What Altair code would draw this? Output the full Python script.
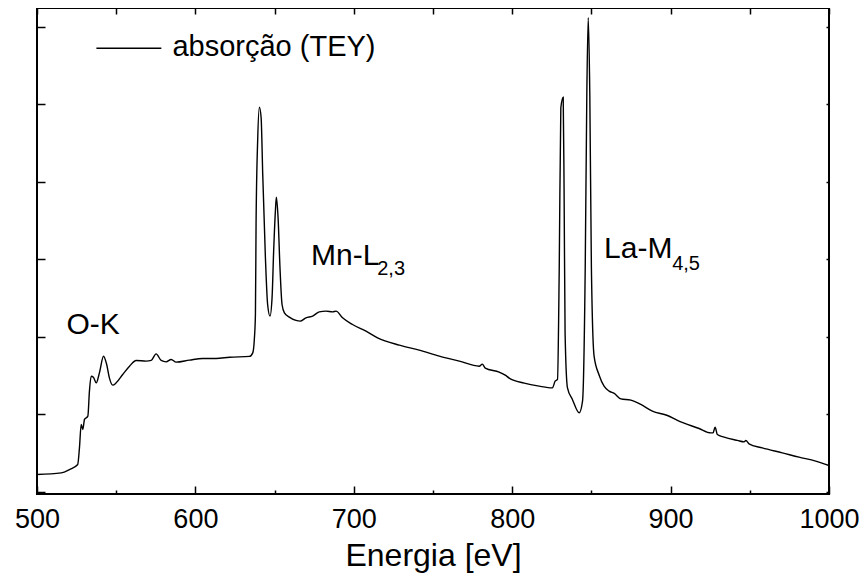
import altair as alt
import pandas as pd

energy = [500.0, 515.3, 520.5, 525.7, 526.8, 527.9, 528.9, 530.0, 532.1, 533.1, 534.2, 535.6, 537.4, 539.4,
          542.0, 544.0, 545.7, 547.8, 550.0, 554.1, 558.4, 562.6, 568.9, 572.1, 575.2, 578.4, 581.5, 584.7,
          587.8, 596.2, 604.6, 613.1, 621.5, 634.1, 636.2, 637.2, 637.9, 638.3, 639.3, 640.4, 641.5, 642.5,
          644.2, 645.6, 647.1, 648.4, 649.4, 650.5, 651.1, 652.2, 653.4, 654.7, 656.2, 659.3, 663.5, 666.1,
          669.8, 674.0, 678.2, 682.5, 686.6, 688.8, 692.9, 699.2, 707.7, 715.0, 728.7, 741.3, 754.0, 766.6,
          779.2, 781.1, 783.0, 791.8, 795.6, 798.1, 807.6, 817.0, 825.4, 827.1, 828.6, 829.7, 830.7, 832.2,
          832.8, 833.4, 834.9, 838.0, 842.3, 844.4, 846.1, 847.1, 848.0, 849.0, 850.0, 851.7, 854.9, 858.0,
          861.2, 864.4, 868.6, 874.9, 881.2, 888.5, 898.0, 904.3, 918.0, 925.4, 926.8, 928.1, 929.5, 933.8,
          942.2, 946.4, 947.5, 949.5, 957.9, 970.5, 981.1, 991.6, 1000.0]
intensity = [0.222, 0.243, 0.286, 0.351, 0.565, 0.867, 0.803, 0.932, 0.974, 1.297, 1.490, 1.477, 1.404, 1.533,
             1.748, 1.641, 1.468, 1.374, 1.404, 1.512, 1.619, 1.693, 1.684, 1.693, 1.778, 1.693, 1.675, 1.706,
             1.671, 1.697, 1.719, 1.719, 1.735, 1.745, 1.791, 1.964, 2.290, 3.452, 4.523, 4.961, 4.823, 4.097,
             3.017, 2.415, 2.265, 2.501, 3.103, 3.619, 3.800, 3.533, 2.888, 2.415, 2.307, 2.252, 2.209, 2.200,
             2.243, 2.265, 2.320, 2.329, 2.320, 2.329, 2.243, 2.157, 2.071, 1.985, 1.890, 1.826, 1.748, 1.684,
             1.619, 1.645, 1.594, 1.542, 1.503, 1.465, 1.400, 1.361, 1.339, 1.426, 1.448, 2.888, 4.952, 5.090,
             3.748, 2.032, 1.339, 1.190, 1.017, 1.168, 2.888, 5.110, 6.114, 5.110, 2.888, 1.748, 1.503, 1.361,
             1.297, 1.267, 1.197, 1.181, 1.125, 1.039, 0.983, 0.919, 0.815, 0.759, 0.759, 0.832, 0.738, 0.703,
             0.661, 0.643, 0.661, 0.617, 0.565, 0.501, 0.445, 0.394, 0.338]

x_major = [500, 600, 700, 800, 900, 1000]
x_minor = [550, 650, 750, 850, 950]
x_top = [500, 550, 600, 650, 700, 750, 800, 850, 900, 950, 1000]
y_ticks = [0, 1, 2, 3, 4, 5, 6]

# annotations
main_labels = ["O-K", "Mn-L", "La-M"]
main_x = [518.6, 673.0, 858.0]
main_y = [2.03, 2.93, 3.02]
sub_labels = ["2,3", "4,5"]
sub_x = [714.8, 901.0]
sub_y = [2.79, 2.86]

legend_label = ["absorção (TEY)"]
legend_line_x = [537.5]
legend_line_x2 = [578.5]
legend_line_y = [5.72]
legend_text_x = [585.5]
legend_text_y = [5.62]

df = pd.DataFrame({"E": energy, "I": intensity})
xs = alt.Scale(domain=[500, 1000], nice=False, zero=False)
ys = alt.Scale(domain=[-0.03, 6.24], nice=False, zero=False)

FONT = "Liberation Sans"


def tick_axis(orient, values, size):
    return alt.Axis(orient=orient, values=values, tickSize=size, offset=-size, labels=False,
                    domain=False, grid=False, title=None, ticks=True, tickColor="black",
                    tickWidth=1.5)


base = alt.Chart(df)
line = base.mark_line(color="black", strokeWidth=1.4, interpolate="monotone").encode(
    x=alt.X("E:Q", scale=xs, axis=alt.Axis(orient="bottom", values=x_major, ticks=False, domain=False,
                                           grid=False, labelFontSize=27, labelPadding=12, format="d",
                                           labelFlush=False, labelOverlap=False, labelColor="black",
                                           labelFont=FONT, title="Energia [eV]", titleFontSize=32,
                                           titleFont=FONT, titleFontWeight="normal", titleColor="black",
                                           titlePadding=8)),
    y=alt.Y("I:Q", scale=ys, axis=tick_axis("left", y_ticks, 8)),
)
ax1 = base.mark_line(strokeOpacity=0).encode(
    x=alt.X("E:Q", scale=xs, axis=tick_axis("bottom", x_major, 8)),
    y=alt.Y("I:Q", scale=ys, axis=tick_axis("right", y_ticks, 3)),
)
ax2 = base.mark_line(strokeOpacity=0).encode(
    x=alt.X("E:Q", scale=xs, axis=tick_axis("bottom", x_minor, 4)),
    y=alt.Y("I:Q", scale=ys, axis=None),
)
ax3 = base.mark_line(strokeOpacity=0).encode(
    x=alt.X("E:Q", scale=xs, axis=tick_axis("top", x_top, 6)),
    y=alt.Y("I:Q", scale=ys, axis=None),
)

ann_df = pd.DataFrame({"E": main_x, "I": main_y, "t": main_labels})
ann = alt.Chart(ann_df).mark_text(font=FONT, fontSize=30, align="left", baseline="alphabetic",
                                  color="black").encode(
    x=alt.X("E:Q", scale=xs, axis=None), y=alt.Y("I:Q", scale=ys, axis=None), text="t:N")
sub_df = pd.DataFrame({"E": sub_x, "I": sub_y, "t": sub_labels})
sub = alt.Chart(sub_df).mark_text(font=FONT, fontSize=20, align="left", baseline="alphabetic",
                                  color="black").encode(
    x=alt.X("E:Q", scale=xs, axis=None), y=alt.Y("I:Q", scale=ys, axis=None), text="t:N")

leg_line_df = pd.DataFrame({"E": legend_line_x, "E2": legend_line_x2, "I": legend_line_y})
leg_line = alt.Chart(leg_line_df).mark_rule(color="black", strokeWidth=1.4).encode(
    x=alt.X("E:Q", scale=xs, axis=None), x2="E2:Q", y=alt.Y("I:Q", scale=ys, axis=None))
leg_text_df = pd.DataFrame({"E": legend_text_x, "I": legend_text_y, "t": legend_label})
leg_text = alt.Chart(leg_text_df).mark_text(font=FONT, fontSize=29, align="left", baseline="alphabetic",
                                            color="black").encode(
    x=alt.X("E:Q", scale=xs, axis=None), y=alt.Y("I:Q", scale=ys, axis=None), text="t:N")

chart = alt.layer(line, ax1, ax2, ax3, ann, sub, leg_line, leg_text).resolve_axis(
    x="independent", y="independent"
).properties(
    width=792, height=486, autosize="none",
    padding={"left": 29, "top": 0, "right": 30, "bottom": 79},
    background="white",
).configure_view(stroke="black", strokeWidth=2)

chart.save("out.html", embed_options={"renderer": "svg", "actions": False})
